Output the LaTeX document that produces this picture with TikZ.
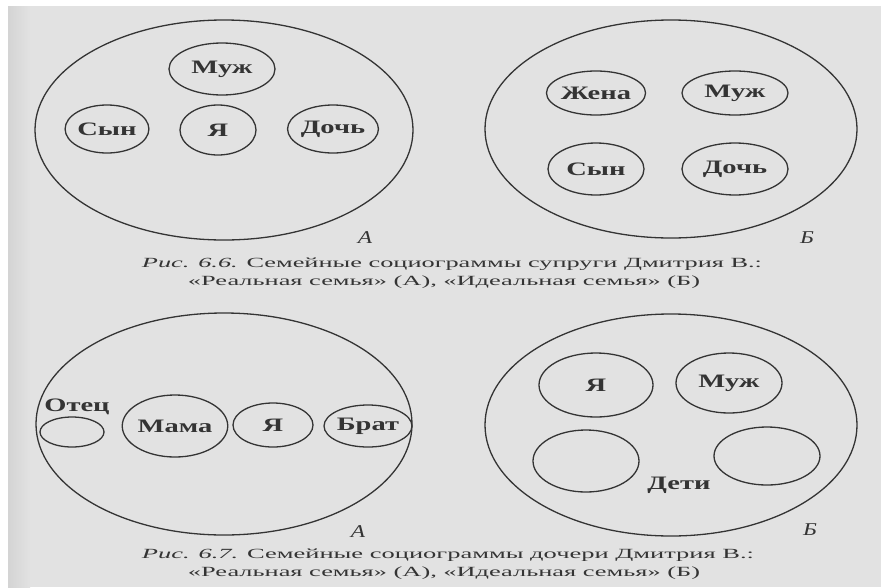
\documentclass[tikz,border=0pt]{standalone}
\usepackage{fontspec}
\setmainfont{Liberation Serif}
\usepackage{graphicx}
\usetikzlibrary{shapes.geometric}
\definecolor{page}{RGB}{226,226,226}
\definecolor{ink}{RGB}{52,52,52}
\newcommand{\wide}[1]{\scalebox{1.5}[1]{#1}}
\newcommand{\panelmark}[1]{\scalebox{1.3}[1]{#1}}

\begin{document}
\begin{tikzpicture}[x=1pt,y=-1pt,
  family/.style={ellipse,draw=ink,line width=1.3pt,inner sep=0pt},
  who/.style={text=ink,font=\bfseries\fontsize{19}{21}\selectfont},
  panel/.style={text=ink,font=\itshape\fontsize{18}{20}\selectfont},
  caption/.style={text=ink,font=\fontsize{14}{16}\selectfont}]
  %scanned page
  \useasboundingbox (0,0) rectangle (881,587);
  \fill[page] (0,0) rectangle (881,587);
  \fill[white] (0,0) rectangle (881,6);
  \fill[white] (0,0) rectangle (8,587);
  \shade[left color=black!17,right color=page] (8,6) rectangle (30,587);

  %fig 6.6, real family (A)
  \node[family,minimum width=378,minimum height=220] (realA) at (224,130) {};
  \foreach \nm/\cx/\cy/\rx/\ry/\txt in {muzhA/222/69/53/26/Муж,
      synA/107/129/38/24/Сын, yaA/218/130/38/25/Я, dochA/333/129/40/24/Дочь}
    \node[family,who,minimum width=2*\rx,minimum height=2*\ry] (\nm) at (\cx,\cy) {\wide{\txt}};
  \node[panel] (markA) at (365,238) {\panelmark{А}};

  %fig 6.6, ideal family (B)
  \node[family,minimum width=372,minimum height=218] (idealB) at (671,129) {};
  \foreach \nm/\cx/\cy/\rx/\ry/\txt in {zhenaB/596/93/48/22/Жена,
      muzhB/735/93/53/22/Муж, synB/596/169/48/26/Сын, dochB/735/169/53/26/Дочь}
    \node[family,who,minimum width=2*\rx,minimum height=2*\ry] (\nm) at (\cx,\cy) {\wide{\txt}};
  \node[panel] (markB) at (807,238) {\panelmark{Б}};

  \node[caption] (capA) at (452,264)
    {\resizebox{620pt}{\height}{\textit{Рис. 6.6.} Семейные социограммы супруги Дмитрия В.:}};
  \node[caption] (capB) at (444,282)
    {\resizebox{512pt}{\height}{«Реальная семья» (А), «Идеальная семья» (Б)}};

  %fig 6.7, real family (A)
  \node[family,minimum width=376,minimum height=222] (realC) at (224,424) {};
  \foreach \nm/\cx/\cy/\rx/\ry/\txt in {otecC/72/432/32/15/{},
      mamaC/175/426/51/31/Мама, yaC/273/425/40/22/Я, bratC/368/426/40/21/Брат}
    \node[family,who,minimum width=2*\rx,minimum height=2*\ry] (\nm) at (\cx,\cy) {\wide{\txt}};
  \node[who] (otecL) at (77,407) {\wide{Отец}};
  \node[panel] (markC) at (358,532) {\panelmark{А}};

  %fig 6.7, ideal family (B)
  \node[family,minimum width=372,minimum height=222] (idealD) at (671,425) {};
  \foreach \nm/\cx/\cy/\rx/\ry/\txt in {yaD/596/385/57/32/Я,
      muzhD/729/383/53/30/Муж, kidlD/586/461/53/31/{}, kidrD/767/456/53/29/{}}
    \node[family,who,minimum width=2*\rx,minimum height=2*\ry] (\nm) at (\cx,\cy) {\wide{\txt}};
  \node[who] (detiL) at (679,485) {\wide{Дети}};
  \node[panel] (markD) at (810,530) {\panelmark{Б}};

  \node[caption] (capC) at (448,555)
    {\resizebox{612pt}{\height}{\textit{Рис. 6.7.} Семейные социограммы дочери Дмитрия В.:}};
  \node[caption] (capD) at (444,573)
    {\resizebox{512pt}{\height}{«Реальная семья» (А), «Идеальная семья» (Б)}};
\end{tikzpicture}
\end{document}
